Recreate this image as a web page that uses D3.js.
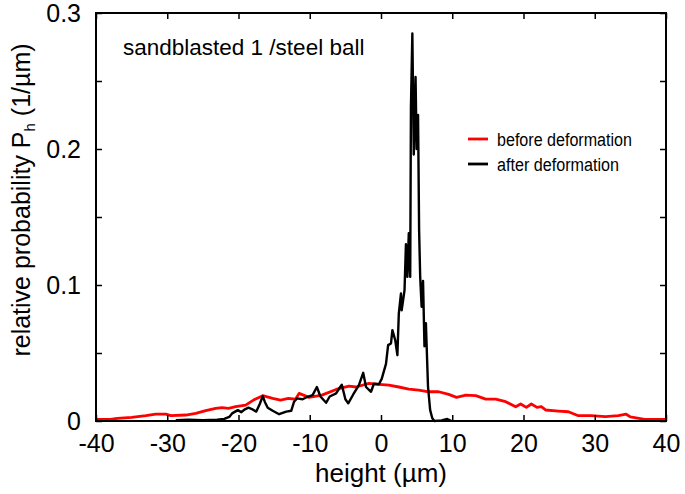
<!DOCTYPE html>
<html>
<head>
<meta charset="utf-8">
<script src="https://cdn.jsdelivr.net/npm/d3@7"></script>
<style>
  body { margin: 0; background: #fff; }
  svg { font-family: "Liberation Sans", Arial, Helvetica, sans-serif; }
</style>
</head>
<body>
<svg id="chart"></svg>
<script>
// before deformation (red)
const beforeHeight = [-40, -38, -37, -35, -33, -31.6, -30.2, -29.5, -27.4, -26, -24.6, -23.2, -22.3, -21.4, -20.4,
  -19, -17.9, -16.6, -15.2, -14.1, -13, -12, -11.5, -10.1, -8.3, -6.3, -4.5, -3.5, -1.7, -0.3,
  1.1, 2.5, 3.9, 5.3, 6.7, 8.1, 9.5, 10.6, 11.9, 13.3, 14.7, 16.1, 17.5, 18.9, 19.6, 20.4, 21.1,
  21.9, 22.5, 23.1, 24.9, 26.3, 27.7, 29.5, 31.5, 33.3, 34.4, 35, 37, 39.3, 40];
const beforeProb = [0.0012, 0.0012, 0.002, 0.0027, 0.0039, 0.005, 0.005, 0.0039, 0.0044, 0.0056, 0.0076, 0.0093, 0.0098, 0.0093, 0.0105,
  0.0117, 0.0154, 0.0186, 0.0166, 0.0154, 0.0166, 0.016, 0.0203, 0.0174, 0.019, 0.0232, 0.0257, 0.025, 0.0276, 0.027,
  0.0264, 0.025, 0.0235, 0.0227, 0.0215, 0.0215, 0.0196, 0.0174, 0.019, 0.0187, 0.0161, 0.0161, 0.0142, 0.0105, 0.0125, 0.010, 0.0125,
  0.010, 0.0105, 0.0081, 0.0073, 0.0068, 0.0039, 0.0039, 0.0032, 0.0039, 0.005, 0.003, 0.0012, 0.0012, 0.0012];

// after deformation (black)
const afterHeight = [-28.8, -27, -25, -23, -22, -21.3, -20.9, -20.1, -19.6, -19.1, -18.6, -18.2, -17.5, -17, -16.6, -16.3,
  -15.9, -15.2, -14.3, -13.3, -12.6, -12.2, -11.8, -11, -10.3, -9.6, -9, -8.5, -7.7, -7.2, -6.3, -5.9, -5.5, -5,
  -4.6, -3.9, -3.1, -2.5, -2.1, -1.4, -1, -0.3, 0.1, 0.7, 1, 1.4, 1.6, 2, 2.3, 2.5, 2.8, 2.9, 3.3, 3.5, 3.7,
  3.9, 4.1, 4.2, 4.4, 4.6, 4.85, 5, 5.2, 5.35, 5.5, 5.7, 5.9, 6.1, 6.3, 6.6, 6.9, 7.2, 7.5, 8.5, 9.3, 9.9];
const afterProb = [0.0005, 0.001, 0.0005, 0.001, 0.0015, 0.003, 0.0056, 0.008, 0.0065, 0.0086, 0.0098, 0.009, 0.0069, 0.0127, 0.0183, 0.014,
  0.0098, 0.0075, 0.005, 0.0069, 0.0075, 0.0142, 0.0166, 0.016, 0.0178, 0.019, 0.025, 0.018, 0.0134, 0.018, 0.0203, 0.0237, 0.0266, 0.016,
  0.013, 0.0195, 0.0264, 0.0354, 0.025, 0.0215, 0.0274, 0.027, 0.031, 0.042, 0.0558, 0.057, 0.0668, 0.0594, 0.0484, 0.079, 0.0937, 0.0814, 0.096, 0.13, 0.106,
  0.138, 0.106, 0.23, 0.285, 0.196, 0.253, 0.2, 0.225, 0.14, 0.106, 0.084, 0.103, 0.055, 0.072, 0.025, 0.008, 0.002, 0, 0.0005, 0.0015, 0];

const xTicks = [-40, -30, -20, -10, 0, 10, 20, 30, 40];
const yTicks = [0, 0.1, 0.2, 0.3];
const yMinorTicks = [0.05, 0.15, 0.25];

const svg = d3.select('#chart')
  .attr('width', 685)
  .attr('height', 494);

const margin = { top: 13, right: 19, bottom: 73, left: 96 };
const width = 685 - margin.left - margin.right;
const height = 494 - margin.top - margin.bottom;

const x = d3.scaleLinear().domain([-40, 40]).range([margin.left, margin.left + width]);
const y = d3.scaleLinear().domain([0, 0.3]).range([margin.top + height, margin.top]);

const line = d3.line()
  .x(d => x(d[0]))
  .y(d => y(d[1]));

const before = beforeHeight.map((h, i) => [h, beforeProb[i]]);
const after = afterHeight.map((h, i) => [h, afterProb[i]]);

svg.append('path')
  .datum(before)
  .attr('fill', 'none')
  .attr('stroke', '#ff0000')
  .attr('stroke-width', 2.8)
  .attr('stroke-linejoin', 'round')
  .attr('d', line);

svg.append('path')
  .datum(after)
  .attr('fill', 'none')
  .attr('stroke', '#000')
  .attr('stroke-width', 2.4)
  .attr('stroke-linejoin', 'round')
  .attr('d', line);

// axes with inward ticks, mirrored on all sides
const tickFont = g => g.selectAll('text').attr('font-size', 25).attr('fill', '#000').attr('font-family', null);
const plain = g => {
  g.select('.domain').remove();
  g.selectAll('line').attr('stroke-width', 1.5);
};

svg.append('g')
  .attr('transform', `translate(0,${margin.top + height})`)
  .call(d3.axisBottom(x).tickValues(xTicks).tickSize(-6).tickPadding(13).tickFormat(d => String(d)))
  .call(plain)
  .call(tickFont);

svg.append('g')
  .attr('transform', `translate(0,${margin.top})`)
  .call(d3.axisTop(x).tickValues(xTicks).tickSize(-6).tickFormat(''))
  .call(plain);

svg.append('g')
  .attr('transform', `translate(${margin.left},0)`)
  .call(d3.axisLeft(y).tickValues(yTicks).tickSize(-6).tickPadding(15).tickFormat(d => d === 0 ? '0' : d3.format('.1f')(d)))
  .call(plain)
  .call(tickFont);

svg.append('g')
  .attr('transform', `translate(${margin.left},0)`)
  .call(d3.axisLeft(y).tickValues(yMinorTicks).tickSize(-6).tickFormat(''))
  .call(plain);

svg.append('g')
  .attr('transform', `translate(${margin.left + width},0)`)
  .call(d3.axisRight(y).tickValues(yTicks.concat(yMinorTicks)).tickSize(-6).tickFormat(''))
  .call(plain);

svg.append('rect')
  .attr('x', margin.left)
  .attr('y', margin.top)
  .attr('width', width)
  .attr('height', height)
  .attr('fill', 'none')
  .attr('stroke', '#000')
  .attr('stroke-width', 2);

// axis labels
svg.append('text')
  .attr('x', x(0))
  .attr('y', 482)
  .attr('text-anchor', 'middle')
  .attr('font-size', 26)
  .text('height (\u00b5m)');

const yLabel = svg.append('text')
  .attr('transform', 'translate(30,200) rotate(-90)')
  .attr('text-anchor', 'middle')
  .attr('font-size', 25);
yLabel.append('tspan').text('relative probability P');
yLabel.append('tspan').attr('font-size', 15).attr('dy', 5).text('h');
yLabel.append('tspan').attr('dy', -5).text(' (1/\u00b5m)');

// title
svg.append('text')
  .attr('x', 123)
  .attr('y', 55)
  .attr('font-size', 22.5)
  .text('sandblasted 1 /steel ball');

// legend (narrow glyphs as in the original)
const legend = [
  { label: 'before deformation', color: '#ff0000', len: 135 },
  { label: 'after deformation', color: '#000', len: 122 }
];
legend.forEach((d, i) => {
  const ly = 139 + i * 25;
  svg.append('line')
    .attr('x1', 468).attr('x2', 488)
    .attr('y1', ly).attr('y2', ly)
    .attr('stroke', d.color)
    .attr('stroke-width', 2.8);
  svg.append('text')
    .attr('x', 497)
    .attr('y', ly + 7)
    .attr('font-size', 18)
    .attr('textLength', d.len)
    .attr('lengthAdjust', 'spacingAndGlyphs')
    .text(d.label);
});
</script>
</body>
</html>
